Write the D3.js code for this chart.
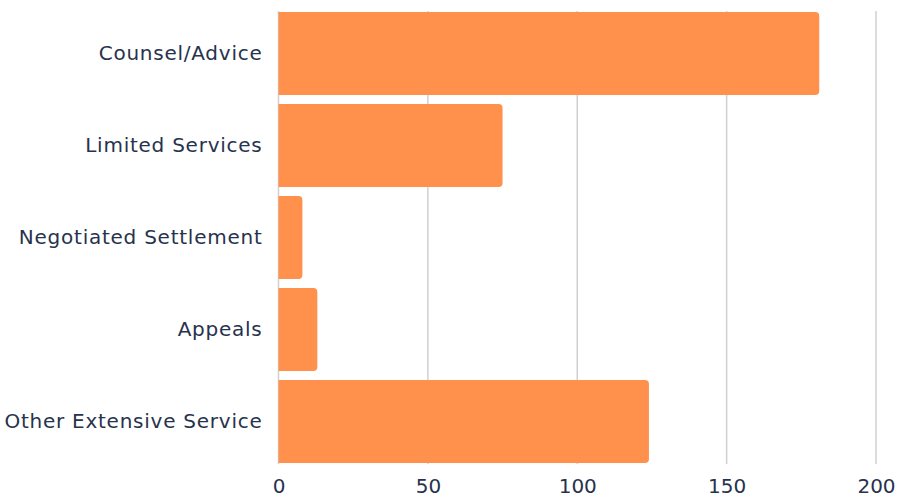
<!DOCTYPE html>
<html>
<head>
<meta charset="utf-8">
<script src="https://cdn.jsdelivr.net/npm/d3@7"></script>
<style>
  body { margin: 0; background: #fff; }
  svg text { font-family: "DejaVu Sans", sans-serif; fill: #27324d; }
</style>
</head>
<body>
<svg id="chart"></svg>
<script>
const global_width = 898,
  global_height = 500;

const categories = [
  'Counsel/Advice',
  'Limited Services',
  'Negotiated Settlement',
  'Appeals',
  'Other Extensive Service',
]
const values = [181, 75, 8, 13, 124]
const tickValues = [0, 50, 100, 150, 200]

const margin = {left: 278.5, right: 22, top: 7.5, bottom: 32.5}
const width = global_width - margin.left - margin.right,
  height = global_height - margin.top - margin.bottom;

const svg = d3.select('svg#chart')
  .attr('width', global_width)
  .attr('height', global_height)

const plot = svg.append('g')
  .attr('transform', `translate(${margin.left},${margin.top})`)

const xScale = d3.scaleLinear().domain([0, 200]).range([0, width])
const yScale = d3.scaleBand()
  .domain(categories)
  .range([0, height])
  .paddingInner(0.098)
  .paddingOuter(0.049)

// grid lines
plot.append('g')
  .selectAll('line')
  .data(tickValues)
  .enter()
  .append('line')
  .attr('x1', d => xScale(d))
  .attr('x2', d => xScale(d))
  .attr('y1', 3.5)
  .attr('y2', height - 3.5)
  .attr('stroke', '#cfd0d4')
  .attr('stroke-width', 1.5)

// bars, right corners rounded
const r = 4
const bh = yScale.bandwidth()
plot.append('g')
  .selectAll('path')
  .data(categories)
  .enter()
  .append('path')
  .attr('fill', '#ff914d')
  .attr('d', (d, i) => {
    const w = xScale(values[i]), y = yScale(d)
    const rr = Math.min(r, w / 2)
    return `M0,${y}H${w - rr}Q${w},${y} ${w},${y + rr}V${y + bh - rr}Q${w},${y + bh} ${w - rr},${y + bh}H0Z`
  })

// y labels
const yAxis = d3.axisLeft(yScale).tickSize(0).tickPadding(16)
const yAxisContainer = plot.append('g').call(yAxis)
yAxisContainer.select('.domain').remove()
yAxisContainer.selectAll('text')
  .attr('font-size', '20px')
  .style('font-family', '"DejaVu Sans", sans-serif')
  .style('letter-spacing', '0.75px')
  .attr('fill', '#27324d')

// x labels
const xAxis = d3.axisBottom(xScale).tickValues(tickValues).tickSize(0).tickPadding(11)
const xAxisContainer = plot.append('g')
  .attr('transform', `translate(0,${height})`)
  .call(xAxis)
xAxisContainer.select('.domain').remove()
xAxisContainer.selectAll('text')
  .attr('font-size', '20px')
  .style('font-family', '"DejaVu Sans", sans-serif')
  .attr('fill', '#27324d')
</script>
</body>
</html>
